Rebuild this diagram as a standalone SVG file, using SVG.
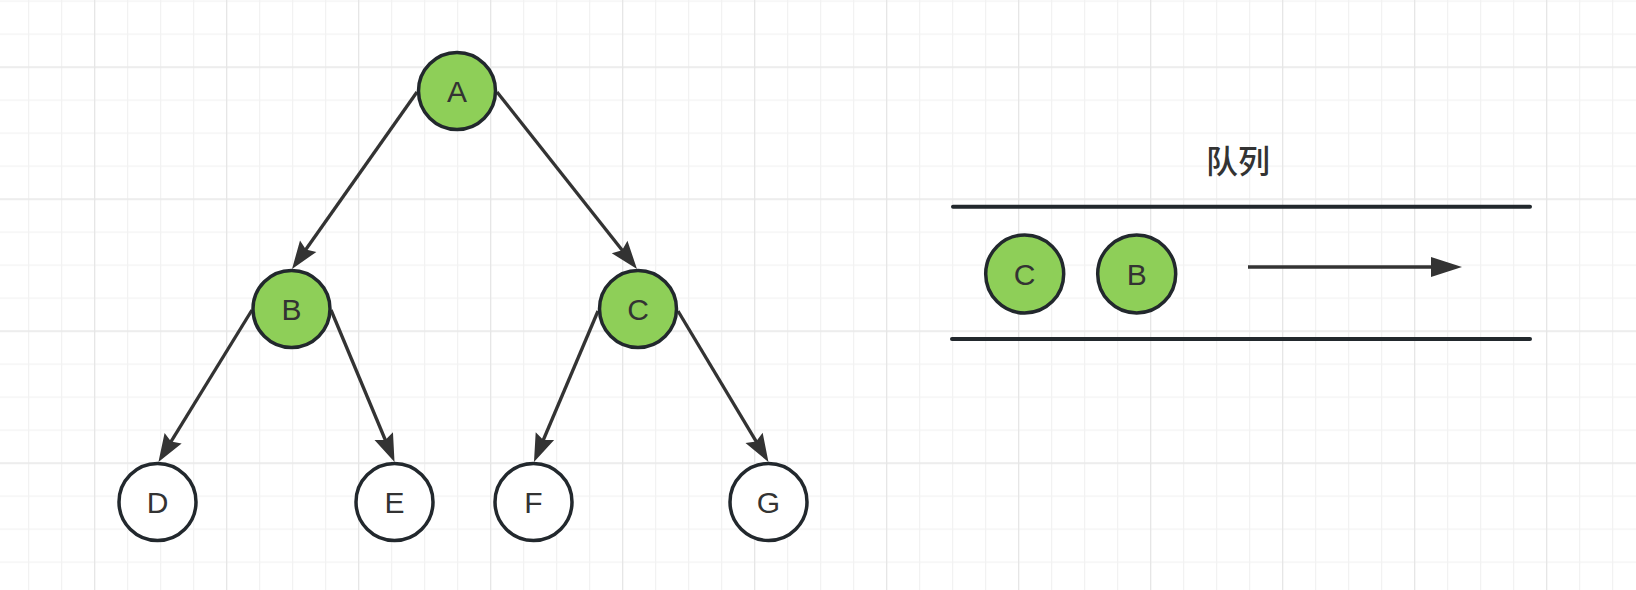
<svg xmlns="http://www.w3.org/2000/svg" width="1636" height="590" viewBox="0 0 1636 590">
  <defs>
    <pattern id="gridMinor" patternUnits="userSpaceOnUse" x="28" y="0.5" width="33" height="33">
      <path d="M0.5 0V33M0 0.5H33" fill="none" stroke="#f2f2f2" stroke-width="1.5"/>
    </pattern>
    <pattern id="gridMajor" patternUnits="userSpaceOnUse" x="94" y="66.5" width="132" height="132">
      <path d="M0.5 0V132M0 0.5H132" fill="none" stroke="#e6e6e6" stroke-width="1.5"/>
    </pattern>
    <marker id="arrClassic" markerUnits="userSpaceOnUse" markerWidth="30" markerHeight="22" refX="9" refY="10" orient="auto" overflow="visible">
      <path d="M0 0L28 10L0 20L4 10Z" fill="#333333"/>
    </marker>
    <marker id="arrBlock" markerUnits="userSpaceOnUse" markerWidth="34" markerHeight="22" refX="2" refY="10" orient="auto" overflow="visible">
      <path d="M0 0L31 10L0 20Z" fill="#333333"/>
    </marker>
    <style>
      .node circle { stroke: #22282d; stroke-width: 3.5; }
      .green { fill: #8ecf58; }
      .white { fill: #ffffff; }
      .lbl { font-family: "Liberation Sans", Arial, sans-serif; font-size: 30px; fill: #333333; text-anchor: middle; }
      .edge { stroke: #333333; stroke-width: 3.3; fill: none; marker-end: url(#arrClassic); }
      .rail { stroke: #22282d; stroke-width: 4; stroke-linecap: round; }
      .title { font-family: "Noto Sans CJK SC", "Noto Sans", sans-serif; font-size: 32px; font-weight: 500; fill: #333333; text-anchor: middle; }
    </style>
  </defs>

  <rect width="1636" height="590" fill="#ffffff"/>
  <rect width="1636" height="590" fill="url(#gridMinor)"/>
  <rect width="1636" height="590" fill="url(#gridMajor)"/>

  <g id="connectors">
    <line class="edge" x1="417" y1="92" x2="303" y2="253.5"/>
    <line class="edge" x1="497" y1="92" x2="625.2" y2="254.1"/>
    <line class="edge" x1="252" y1="310" x2="168.4" y2="445.8"/>
    <line class="edge" x1="331" y1="310" x2="387.2" y2="444.5"/>
    <line class="edge" x1="598" y1="311" x2="541.4" y2="444.5"/>
    <line class="edge" x1="678" y1="311" x2="758.7" y2="445.7"/>
    <line id="queue-arrow" x1="1248" y1="267" x2="1433" y2="267" stroke="#333333" stroke-width="3.5" marker-end="url(#arrBlock)"/>
  </g>

  <g id="node-A" class="node"><circle class="green" cx="457" cy="91" r="38.5"/><text class="lbl" x="457" y="101.7">A</text></g>
  <g id="node-B" class="node"><circle class="green" cx="291.5" cy="309" r="38.5"/><text class="lbl" x="291.5" y="319.7">B</text></g>
  <g id="node-C" class="node"><circle class="green" cx="638" cy="309" r="38.5"/><text class="lbl" x="638" y="319.7">C</text></g>
  <g id="node-D" class="node"><circle class="white" cx="157.5" cy="502" r="38.5"/><text class="lbl" x="157.5" y="512.7">D</text></g>
  <g id="node-E" class="node"><circle class="white" cx="394.5" cy="502" r="38.5"/><text class="lbl" x="394.5" y="512.7">E</text></g>
  <g id="node-F" class="node"><circle class="white" cx="533.5" cy="502" r="38.5"/><text class="lbl" x="533.5" y="512.7">F</text></g>
  <g id="node-G" class="node"><circle class="white" cx="768.5" cy="502" r="38.5"/><text class="lbl" x="768.5" y="512.7">G</text></g>

  <g id="queue">
    <text class="title" x="1238" y="173">队列</text>
    <line class="rail" x1="953" y1="206.7" x2="1530" y2="206.7"/>
    <line class="rail" x1="952" y1="339" x2="1530" y2="339"/>
  </g>
  <g id="queue-C" class="node"><circle class="green" cx="1024.7" cy="274" r="39"/><text class="lbl" x="1024.7" y="284.7">C</text></g>
  <g id="queue-B" class="node"><circle class="green" cx="1136.7" cy="274" r="39"/><text class="lbl" x="1136.7" y="284.7">B</text></g>
</svg>
